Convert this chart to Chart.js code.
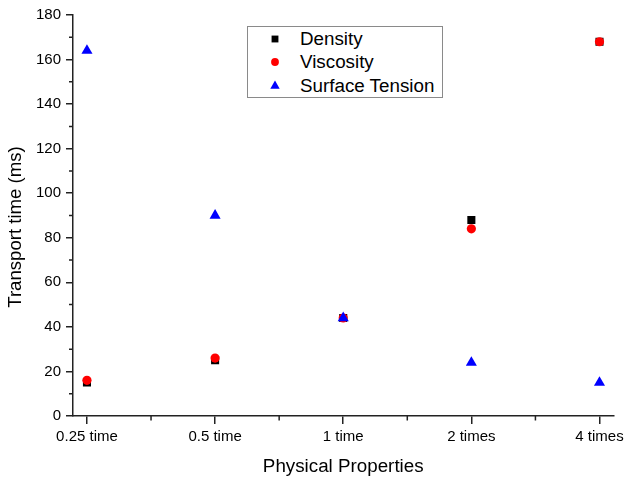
<!DOCTYPE html>
<html>
<head>
<meta charset="utf-8">
<script src="https://cdn.jsdelivr.net/npm/chart.js@4/dist/chart.umd.min.js"></script>
<style>
  html, body { margin: 0; padding: 0; background: #fff; }
  #wrap { position: relative; width: 628px; height: 479px; }
  #legend {
    position: absolute; left: 247px; top: 26px; width: 196px; height: 72px;
    border: 1px solid #8a8a8a; background: #fff; box-sizing: border-box;
    font-family: "Liberation Sans", Arial, sans-serif; font-size: 18.8px; color: #000;
  }
  .row { position: absolute; left: 0; height: 22px; line-height: 22px; white-space: nowrap; }
  .mk { position: absolute; left: 20px; top: 0; width: 14px; height: 22px; }
  .txt { position: absolute; left: 52px; top: 0; }
</style>
</head>
<body>
<div id="wrap">
  <canvas id="c" width="628" height="479"></canvas>
  <div id="legend"></div>
</div>
<script>
// Transport time (ms) for each physical-property multiplier
const categories = ['0.25 time', '0.5 time', '1 time', '2 times', '4 times'];
const density = [15, 25, 44, 88, 168];
const viscosity = [16, 26, 44, 84, 168];
const surfaceTension = [164, 90, 44, 24, 15];
const yMajorTicks = [0, 20, 40, 60, 80, 100, 120, 140, 160, 180];
const yMinorTicks = [10, 30, 50, 70, 90, 110, 130, 150, 170];
const xMinorTicks = [0.5, 1.5, 2.5, 3.5];

const FONT = '"Liberation Sans", Arial, sans-serif';
const AXIS = '#222';

const toPoints = arr => arr.map((v, i) => ({ x: i, y: v }));

// short minor ticks on both axes plus the rotated y-axis title
const extras = {
  id: 'extras',
  afterDraw(chart) {
    const { ctx, scales: { x, y }, chartArea: a } = chart;
    ctx.save();
    ctx.strokeStyle = AXIS;
    ctx.lineWidth = 1.5;
    ctx.beginPath();
    yMinorTicks.forEach(v => {
      const py = y.getPixelForValue(v);
      ctx.moveTo(a.left - 4, py); ctx.lineTo(a.left, py);
    });
    xMinorTicks.forEach(v => {
      const px = x.getPixelForValue(v);
      ctx.moveTo(px, a.bottom); ctx.lineTo(px, a.bottom + 4.5);
    });
    ctx.stroke();
    ctx.translate(16, 227);
    ctx.rotate(-Math.PI / 2);
    ctx.fillStyle = '#000';
    ctx.font = '18.6px ' + FONT;
    ctx.textAlign = 'center';
    ctx.textBaseline = 'middle';
    ctx.fillText('Transport time (ms)', 0, 0);
    ctx.restore();
  }
};

const chart = new Chart(document.getElementById('c'), {
  type: 'scatter',
  data: {
    datasets: [
      { label: 'Density', data: toPoints(density), pointStyle: 'rect', pointRadius: 5.7,
        backgroundColor: '#000', borderWidth: 0, order: 3 },
      { label: 'Viscosity', data: toPoints(viscosity), pointStyle: 'circle', pointRadius: 4.6,
        backgroundColor: '#ff0000', borderWidth: 0, order: 2 },
      { label: 'Surface Tension', data: toPoints(surfaceTension), pointStyle: 'triangle', pointRadius: 6.4,
        backgroundColor: '#0000ff', borderWidth: 0, order: 1 }
    ]
  },
  options: {
    responsive: false,
    animation: false,
    layout: { padding: { top: 15, right: 13, left: 0, bottom: 0 } },
    plugins: { legend: { display: false }, tooltip: { enabled: false } },
    scales: {
      x: {
        type: 'linear',
        min: -0.109, max: 4.109,
        afterBuildTicks: s => { s.ticks = categories.map((_, i) => ({ value: i })); },
        afterFit: s => { s.height = 63; },
        ticks: {
          autoSkip: false, maxRotation: 0, padding: 4, color: '#000',
          font: { family: FONT, size: 15 },
          callback: v => categories[v] ?? ''
        },
        grid: { drawOnChartArea: false, drawTicks: true, tickLength: 8, tickColor: AXIS, lineWidth: 1.5 },
        border: { display: true, color: AXIS, width: 1.5 },
        title: {
          display: true, text: 'Physical Properties', color: '#000',
          font: { family: FONT, size: 18.8 }, padding: { top: 0, bottom: 1 }
        }
      },
      y: {
        min: 0, max: 180,
        afterBuildTicks: s => { s.ticks = yMajorTicks.map(v => ({ value: v })); },
        afterFit: s => { s.width = 73; },
        ticks: { padding: 5, color: '#000', font: { family: FONT, size: 15 } },
        grid: { drawOnChartArea: false, drawTicks: true, tickLength: 7, tickColor: AXIS, lineWidth: 1.5 },
        border: { display: true, color: AXIS, width: 1.5 }
      }
    }
  },
  plugins: [extras]
});

// legend built from the chart's datasets
(function buildLegend() {
  const box = document.getElementById('legend');
  chart.data.datasets.forEach((ds, i) => {
    const row = document.createElement('div');
    row.className = 'row';
    row.style.top = (0.5 + i * 23.5) + 'px';
    row.style.width = '100%';
    const mk = document.createElement('canvas');
    mk.className = 'mk'; mk.width = 14; mk.height = 22;
    const c = mk.getContext('2d');
    c.fillStyle = ds.backgroundColor;
    const r = ds.pointRadius * 0.85;
    Chart.helpers.drawPoint(c, { pointStyle: ds.pointStyle, radius: r, borderWidth: 0, rotation: 0 }, 7, 11);
    const t = document.createElement('span');
    t.className = 'txt'; t.textContent = ds.label;
    row.appendChild(mk); row.appendChild(t);
    box.appendChild(row);
  });
})();
</script>
</body>
</html>
